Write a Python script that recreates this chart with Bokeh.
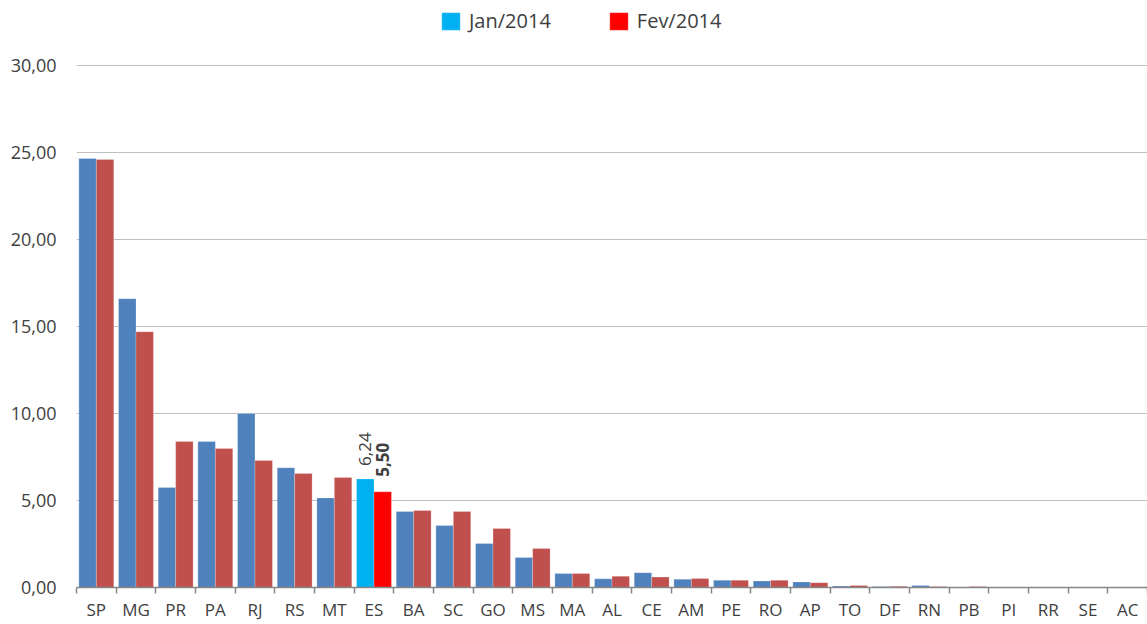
import math
from bokeh.plotting import figure
from bokeh.models import ColumnDataSource, Range1d, FixedTicker, Legend, LegendItem
from bokeh.core.properties import value
from bokeh.embed import file_html
from bokeh.resources import INLINE

states = ["SP", "MG", "PR", "PA", "RJ", "RS", "MT", "ES", "BA", "SC", "GO", "MS", "MA", "AL",
          "CE", "AM", "PE", "RO", "AP", "TO", "DF", "RN", "PB", "PI", "RR", "SE", "AC"]
jan2014 = [24.66, 16.6, 5.75, 8.39, 10.0, 6.88, 5.15, 6.24, 4.37, 3.56, 2.53, 1.72, 0.8, 0.5,
           0.85, 0.48, 0.42, 0.38, 0.32, 0.08, 0.06, 0.12, 0.02, 0.01, 0.0, 0.0, 0.0]
fev2014 = [24.6, 14.7, 8.39, 7.99, 7.3, 6.55, 6.32, 5.50, 4.43, 4.37, 3.39, 2.24, 0.8, 0.65,
           0.6, 0.52, 0.42, 0.42, 0.28, 0.12, 0.07, 0.06, 0.06, 0.01, 0.0, 0.0, 0.0]
highlight = "ES"
yticks = [0, 5, 10, 15, 20, 25, 30]
ytick_labels = ["0,00", "5,00", "10,00", "15,00", "20,00", "25,00", "30,00"]

FONT = "Open Sans"
TXT = "#404040"
n = len(states)
bw = 0.44
xs = [i + 0.5 for i in range(n)]
jan_colors = ["#00B0F0" if s == highlight else "#4F81BD" for s in states]
fev_colors = ["#FF0000" if s == highlight else "#C0504D" for s in states]

src_jan = ColumnDataSource(dict(x=[c - bw / 2 for c in xs], top=jan2014, color=jan_colors))
src_fev = ColumnDataSource(dict(x=[c + bw / 2 for c in xs], top=fev2014, color=fev_colors))

FRAME_W, FRAME_H = 1071, 587
y_top = 30 * FRAME_H / 522.0  # leaves room above the 30 gridline for the legend

p = figure(frame_width=FRAME_W, frame_height=FRAME_H, output_backend="svg", toolbar_location=None,
           x_range=Range1d(0, n), y_range=Range1d(0, y_top),
           min_border_left=76, min_border_right=0, min_border_top=0, min_border_bottom=37)
p.outline_line_color = None

rj = p.vbar(x="x", top="top", width=bw, bottom=0, source=src_jan, fill_color="color",
            line_color="white", line_width=0.6, line_alpha=0.4)
rf = p.vbar(x="x", top="top", width=bw, bottom=0, source=src_fev, fill_color="color",
            line_color="white", line_width=0.6, line_alpha=0.4)

hi = states.index(highlight)
p.text(x=[xs[hi] - bw / 2], y=[jan2014[hi]], text=[f"{jan2014[hi]:.2f}".replace(".", ",")],
       angle=math.pi / 2, text_align="left", text_baseline="middle", y_offset=-13,
       text_font=value(FONT), text_font_size="17px", text_color=TXT)
p.text(x=[xs[hi] + bw / 2], y=[fev2014[hi]], text=[f"{fev2014[hi]:.2f}".replace(".", ",")],
       angle=math.pi / 2, text_align="left", text_baseline="middle", y_offset=-15,
       text_font=value(FONT), text_font_size="17px", text_font_style="bold", text_color=TXT)

# axes
p.xaxis.ticker = FixedTicker(ticks=xs, minor_ticks=list(range(n + 1)))
p.xaxis.major_label_overrides = {x: s for x, s in zip(xs, states)}
p.xaxis.major_tick_out = 0
p.xaxis.major_tick_in = 0
p.xaxis.minor_tick_out = 6
p.xaxis.minor_tick_in = 0
p.xaxis.minor_tick_line_color = "#868686"
p.xaxis.minor_tick_line_width = 1.5
p.xaxis.axis_line_color = "#868686"
p.xaxis.axis_line_width = 1.5
p.xaxis.major_label_text_font = FONT
p.xaxis.major_label_text_font_size = "17px"
p.xaxis.major_label_text_color = TXT
p.xaxis.major_label_standoff = 4

p.yaxis.ticker = FixedTicker(ticks=yticks)
p.yaxis.major_label_overrides = {t: l for t, l in zip(yticks, ytick_labels)}
p.yaxis.axis_line_color = None
p.yaxis.major_tick_line_color = None
p.yaxis.minor_tick_line_color = None
p.yaxis.major_label_text_font = FONT
p.yaxis.major_label_text_font_size = "18px"
p.yaxis.major_label_text_color = TXT
p.yaxis.major_label_standoff = 14

p.xgrid.grid_line_color = None
p.ygrid.grid_line_color = "#BFBFBF"
p.ygrid.grid_line_width = 1

legend = Legend(items=[LegendItem(label="Jan/2014", renderers=[rj], index=hi),
                       LegendItem(label="Fev/2014", renderers=[rf], index=hi)],
                orientation="horizontal", location=(363, 553),
                background_fill_alpha=0, border_line_color=None,
                label_text_font=FONT, label_text_font_size="20px", label_text_color=TXT,
                label_text_baseline="middle",
                glyph_width=23, glyph_height=22, spacing=56, padding=0, margin=0,
                label_standoff=7, label_height=22)
p.add_layout(legend, "center")

open("out.html", "w").write(file_html(p, INLINE))
